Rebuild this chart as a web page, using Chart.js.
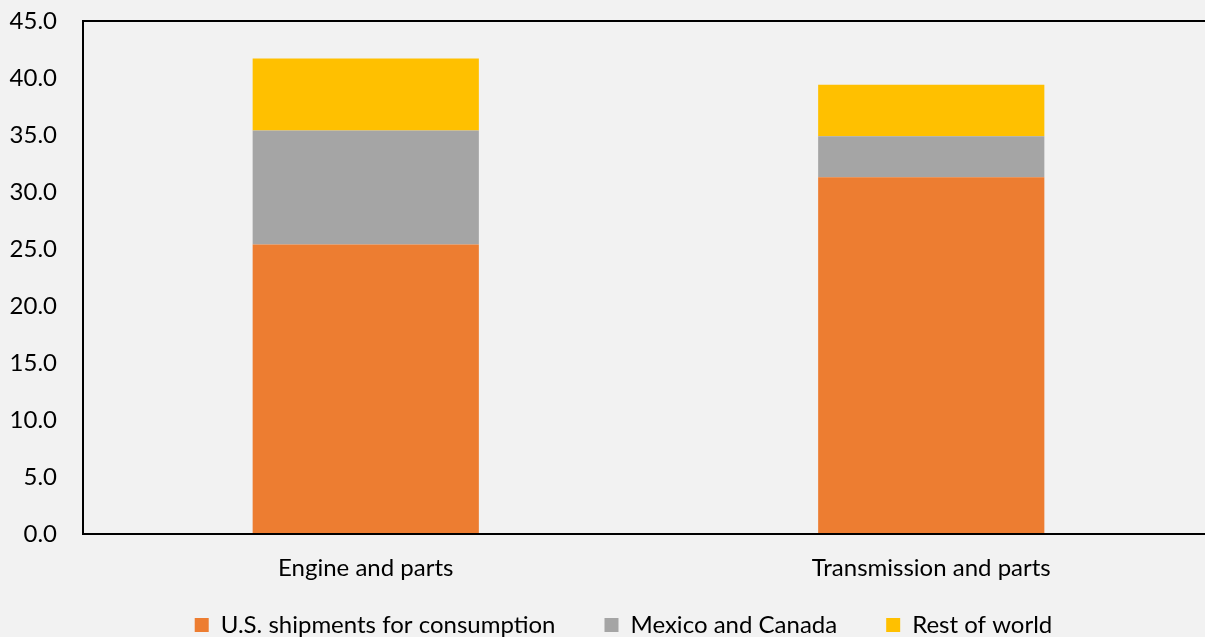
<!DOCTYPE html>
<html>
<head>
<meta charset="utf-8">
<script src="https://cdn.jsdelivr.net/npm/chart.js@4"></script>
<style>
  html, body { margin: 0; padding: 0; background: #f2f2f2; overflow: hidden; }
  #wrap { width: 1214px; height: 637px; position: relative; }
</style>
</head>
<body>
<div id="wrap"><canvas id="partsChart"></canvas></div>
<script>
const categories = ['Engine and parts', 'Transmission and parts'];
const usShipments = [25.4, 31.3];
const mexicoCanada = [10.0, 3.6];
const restOfWorld = [6.3, 4.5];
const yTicks = [0, 5, 10, 15, 20, 25, 30, 35, 40, 45];

const fontFamily = 'Lato, "Open Sans", sans-serif';

// box around the plot area (top line too, like the original)
const plotFrame = {
    id: 'plotFrame',
    afterDraw(chart) {
        const a = chart.chartArea;
        const c = chart.ctx;
        c.save();
        c.strokeStyle = '#000';
        c.lineWidth = 2;
        c.strokeRect(a.left, a.top, a.right - a.left, a.bottom - a.top);
        c.restore();
    }
};

// let tick labels spill outside their axis box instead of being clipped
function noLabelClip(axis) {
    axis._computeLabelArea = () => undefined;
}

const ctx = document.getElementById('partsChart').getContext('2d');

new Chart(ctx, {
    type: 'bar',
    data: {
        labels: categories,
        datasets: [
            { label: 'U.S. shipments for consumption', data: usShipments, backgroundColor: '#ed7d31' },
            { label: 'Mexico and Canada', data: mexicoCanada, backgroundColor: '#a5a5a5' },
            { label: 'Rest of world', data: restOfWorld, backgroundColor: '#ffc000' }
        ]
    },
    options: {
        responsive: true,
        maintainAspectRatio: false,
        animation: false,
        layout: { padding: { top: 0, right: 0, left: 33, bottom: -10 } },
        datasets: {
            bar: { categoryPercentage: 1, barPercentage: 0.4 }
        },
        scales: {
            x: {
                stacked: true,
                grid: { display: false },
                border: { display: false },
                ticks: { color: '#000', font: { family: fontFamily, size: 24 }, padding: 12 },
                afterFit(axis) { axis.height = 30; noLabelClip(axis); }
            },
            y: {
                stacked: true,
                min: 0,
                max: 45,
                afterBuildTicks(axis) { axis.ticks = yTicks.map(v => ({ value: v })); },
                afterFit(axis) {
                    axis.width = 50;
                    axis.paddingTop = 21;
                    axis.paddingBottom = 0;
                    noLabelClip(axis);
                },
                grid: { display: false },
                border: { display: false },
                ticks: {
                    color: '#000',
                    font: { family: fontFamily, size: 24 },
                    padding: 18,
                    callback: v => v.toFixed(1)
                }
            }
        },
        plugins: {
            legend: {
                position: 'bottom',
                labels: {
                    color: '#000',
                    font: { family: fontFamily, size: 24 },
                    boxWidth: 14,
                    boxHeight: 14,
                    padding: 49
                }
            },
            tooltip: { enabled: false }
        }
    },
    plugins: [plotFrame]
});
</script>
</body>
</html>
